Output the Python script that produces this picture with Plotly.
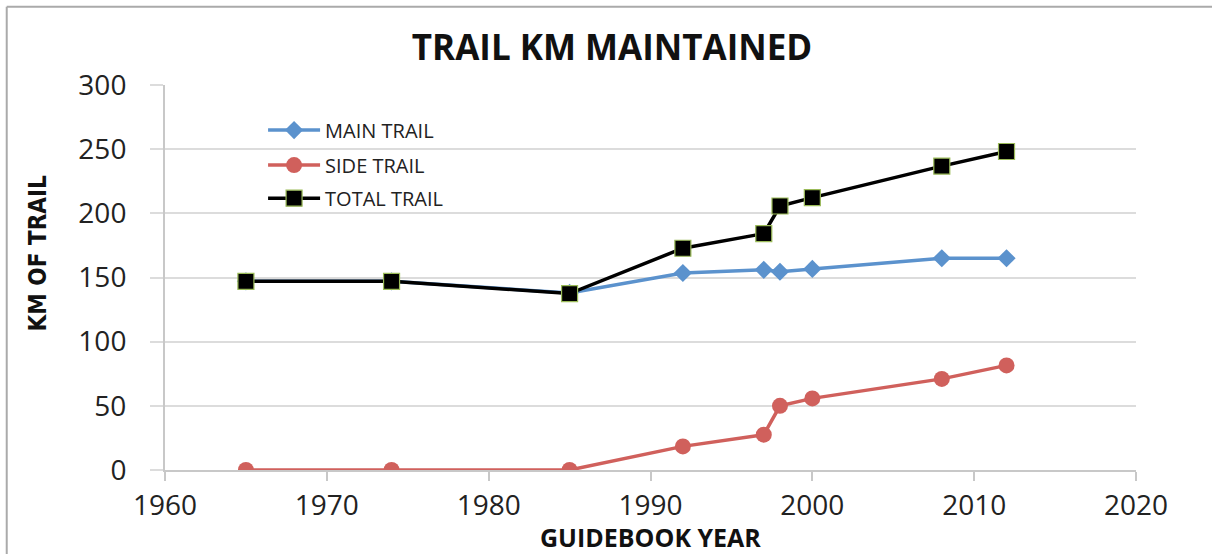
import plotly.graph_objects as go

years = [1965, 1974, 1985, 1992, 1997, 1998, 2000, 2008, 2012]
main_trail = [147, 147, 138, 153.5, 156, 154.5, 156.7, 165, 165]
side_trail = [0, 0, 0, 18.4, 27.5, 50, 55.8, 71, 81.5]
total_trail = [147, 147, 137.5, 172.8, 184.2, 205.7, 212.2, 236.8, 248.2]

series_names = ["MAIN TRAIL", "SIDE TRAIL", "TOTAL TRAIL"]
x_ticks = [1960, 1970, 1980, 1990, 2000, 2010, 2020]
y_ticks = [0, 50, 100, 150, 200, 250, 300]

FONT = "Open Sans, Lato, sans-serif"

fig = go.Figure()
fig.add_trace(go.Scatter(
    x=years, y=main_trail, name=series_names[0], mode="lines+markers",
    line=dict(color="#5B92CD", width=3.5),
    marker=dict(symbol="diamond", size=14, color="#5B92CD"),
    legend="legend"))
fig.add_trace(go.Scatter(
    x=years, y=side_trail, name=series_names[1], mode="lines+markers",
    line=dict(color="#D0605C", width=3.5),
    marker=dict(symbol="circle", size=16, color="#D0605C"),
    legend="legend2"))
fig.add_trace(go.Scatter(
    x=years, y=total_trail, name=series_names[2], mode="lines+markers",
    line=dict(color="#000000", width=3.5),
    marker=dict(symbol="square", size=16, color="#000000",
                line=dict(color="#9BBB59", width=1.2)),
    legend="legend3"))

leg_common = dict(font=dict(family=FONT, size=20, color="#222"),
                  bgcolor="rgba(0,0,0,0)", xanchor="left", yanchor="middle",
                  itemwidth=52, tracegroupgap=0)

fig.update_layout(
    width=1212, height=554,
    margin=dict(l=165, r=76, t=85, b=84),
    paper_bgcolor="white", plot_bgcolor="white",
    showlegend=True,
    title=dict(text="<b>TRAIL KM MAINTAINED</b>", x=0.505, xanchor="center",
               y=0.913, yanchor="middle",
               font=dict(family=FONT, size=35, color="#111")),
    xaxis=dict(range=[1960, 2020], tickvals=x_ticks, showgrid=False,
               showline=True, linecolor="#c8c8c8", linewidth=2,
               ticks="outside", ticklen=9, tickcolor="#c8c8c8", tickwidth=2,
               tickfont=dict(family=FONT, size=28, color="#222"),
               ticklabelstandoff=0, automargin=False,
               zeroline=False),
    yaxis=dict(range=[0, 300], tickvals=y_ticks, showgrid=True,
               gridcolor="#dcdcdc", gridwidth=2,
               showline=True, linecolor="#c8c8c8", linewidth=2,
               ticks="outside", ticklen=13, tickcolor="#dcdcdc", tickwidth=2,
               tickfont=dict(family=FONT, size=28, color="#222"),
               ticklabelstandoff=18, automargin=False,
               zeroline=False),
    legend=dict(x=0.101, y=0.883, **leg_common),
    legend2=dict(x=0.101, y=0.792, **leg_common),
    legend3=dict(x=0.101, y=0.706, **leg_common),
    annotations=[
        dict(text="<b>KM OF TRAIL</b>", textangle=-90, xref="paper", yref="paper",
             x=-0.131, y=0.562, xanchor="center", yanchor="middle", showarrow=False,
             font=dict(family="Liberation Sans Narrow, DejaVu Sans Condensed, Liberation Sans",
                       size=24, color="#111")),
        dict(text="<b>GUIDEBOOK YEAR</b>", xref="paper", yref="paper",
             x=0.4995, y=-0.173, xanchor="center", yanchor="middle", showarrow=False,
             font=dict(family=FONT, size=25, color="#111")),
    ],
    shapes=[
        dict(type="line", xref="paper", yref="paper", x0=-0.163, x1=1.1,
             y0=1.203, y1=1.203, line=dict(color="#aaaaaa", width=2)),
        dict(type="line", xref="paper", yref="paper", x0=-0.163, x1=-0.163,
             y0=-0.25, y1=1.203, line=dict(color="#aaaaaa", width=2)),
    ],
)

fig.write_html("out.html", config={"displayModeBar": False},
               post_script="document.body.style.margin='0';")
